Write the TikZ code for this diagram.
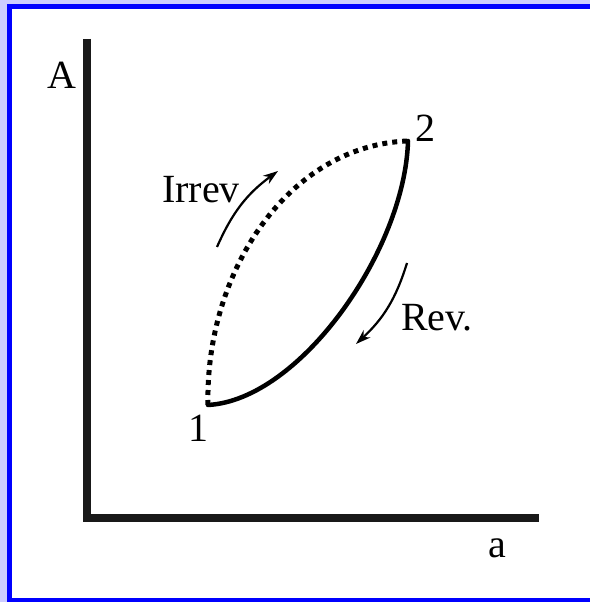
\documentclass[tikz,border=0pt]{standalone}
\usepackage{fontspec}
\setmainfont{Liberation Serif}
\usetikzlibrary{arrows.meta,positioning}
\definecolor{framelight}{RGB}{204,204,255}
\definecolor{frameblue}{RGB}{0,0,255}

\begin{document}
\begin{tikzpicture}[x=1pt, y=1pt,
        lbl/.style={font=\fontsize{40}{42}\selectfont, inner sep=0pt},
        axis/.style={line width=8pt, line join=miter, color=black!90},
        revpath/.style={line width=4.5pt, line cap=round},
        irrevpath/.style={line width=5pt, dash pattern=on 5pt off 5pt},
        dirarrow/.style={line width=2.2pt, -{Stealth[length=15pt, width=10pt]}}]

        % window frame
        \fill[framelight] (0,0) rectangle (590,602);
        \fill[frameblue] (7,0) rectangle (590,598);
        \fill[white] (12,4) rectangle (590,593);
        \useasboundingbox (0,0) rectangle (590,602);

        % axes
        \coordinate (ytop) at (87,563);
        \coordinate (orig) at (87,84);
        \coordinate (xend) at (539,84);
        \draw[axis] (ytop) -- (orig) -- (xend);
        \node[lbl] (ylab) at (62,527) {A};
        \node[lbl] (xlab) at (497,54) {a};

        % states
        \coordinate (p1) at (208,197);
        \coordinate (p2) at (408,461);
        \node[lbl] (n1) at (198,174) {1};
        \node[lbl] (n2) at (425,474) {2};

        % paths
        \draw[revpath] (p1) .. controls (300,202) and (405,352) .. (p2);
        \draw[irrevpath] (p1) .. controls (205,332) and (290,457) .. (p2);

        % direction arrows
        \coordinate (ia) at (217,355);
        \coordinate (ib) at (278,431);
        \coordinate (ra) at (407,339);
        \coordinate (rb) at (356,258);
        \draw[dirarrow] (ia) to[bend left=15] (ib);
        \draw[dirarrow] (ra) to[bend left=15] (rb);
        \node[lbl] (irrev) at (201,412) {Irrev};
        \node[lbl] (rev) at (437,284) {Rev.};
\end{tikzpicture}
\end{document}
